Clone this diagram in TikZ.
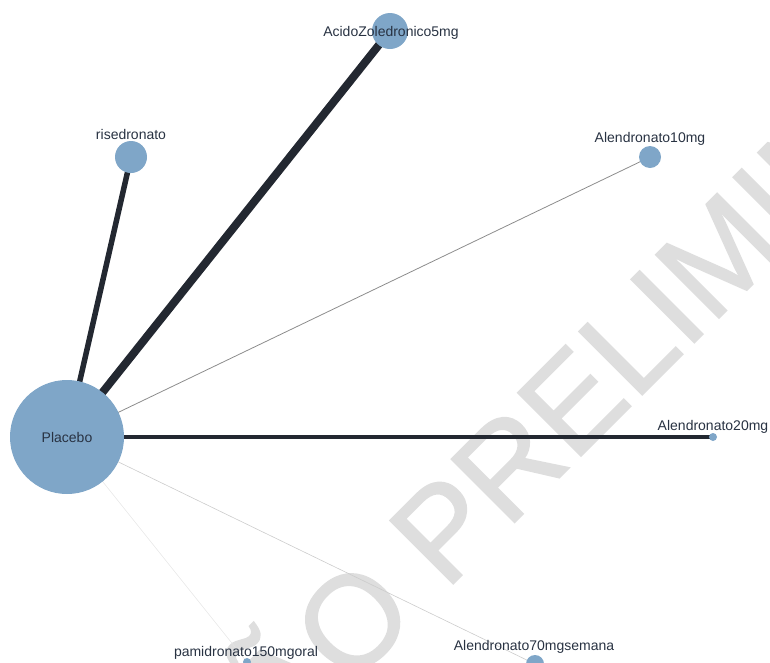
\documentclass[tikz,border=0pt]{standalone}
\usepackage{fontspec}
\setmainfont{Liberation Sans}
\newfontfamily\wasserSchrift[FakeBold=1.2]{Liberation Sans}
\usetikzlibrary{backgrounds}
\definecolor{knotenFarbe}{RGB}{127,166,200}
\definecolor{kantenFarbe}{RGB}{35,40,49}
\definecolor{schriftFarbe}{RGB}{40,50,66}
\definecolor{wasserFarbe}{RGB}{222,222,222}
\begin{document}
\begin{tikzpicture}[x=1pt,y=-1pt,
  knoten/.style={circle,fill=knotenFarbe,inner sep=0pt},
  beschrift/.style={text=schriftFarbe,font=\fontsize{14}{16}\selectfont,anchor=base,inner sep=0pt},
  kante/.style={draw=kantenFarbe,line cap=butt}]
\useasboundingbox (0,0) rectangle (770,662);
\def\schrift{\fontsize{14}{16}\selectfont}
\node[knoten,minimum size=114pt,text=schriftFarbe,font=\schrift] (placebo) at (67,437) {Placebo};
\node[knoten,minimum size=36pt] (acido) at (390,31) {};
\node[knoten,minimum size=32pt] (rised) at (131,157) {};
\node[knoten,minimum size=22pt] (alen10) at (650,157) {};
\node[knoten,minimum size=8pt] (alen20) at (713,437) {};
\node[knoten,minimum size=8pt] (pami) at (247,662) {};
\node[knoten,minimum size=18pt] (alen70) at (535,664) {};
\begin{pgfonlayer}{background}
\clip (0,0) rectangle (770,662);
\node[rotate=45,anchor=base west,inner sep=0pt,text=wasserFarbe,font=\wasserSchrift\fontsize{130}{130}\selectfont] (wasserzeichen) at (37,1000) {VERSÃO PRELIMINAR};
\draw[kante,line width=8pt] (placebo.center) -- (acido.center);
\draw[kante,line width=5.5pt] (placebo.center) -- (rised.center);
\draw[kante,line width=3.5pt] (placebo.center) -- (alen20.center);
\draw[kante,draw=black!45,line width=0.8pt] (placebo.center) -- (alen10.center);
\draw[kante,draw=black!20,line width=0.6pt] (placebo.center) -- (alen70.center);
\draw[kante,draw=black!10,line width=0.5pt] (placebo.center) -- (pami.center);
\end{pgfonlayer}
\node[beschrift] (acidoT) at (391,36) {AcidoZoledronico5mg};
\node[beschrift] (risedT) at (131,139) {risedronato};
\node[beschrift] (alen10T) at (650,142) {Alendronato10mg};
\node[beschrift] (alen20T) at (713,430) {Alendronato20mg};
\node[beschrift] (pamiT) at (246,656) {pamidronato150mgoral};
\node[beschrift] (alen70T) at (534,650) {Alendronato70mgsemana};
\end{tikzpicture}
\end{document}
